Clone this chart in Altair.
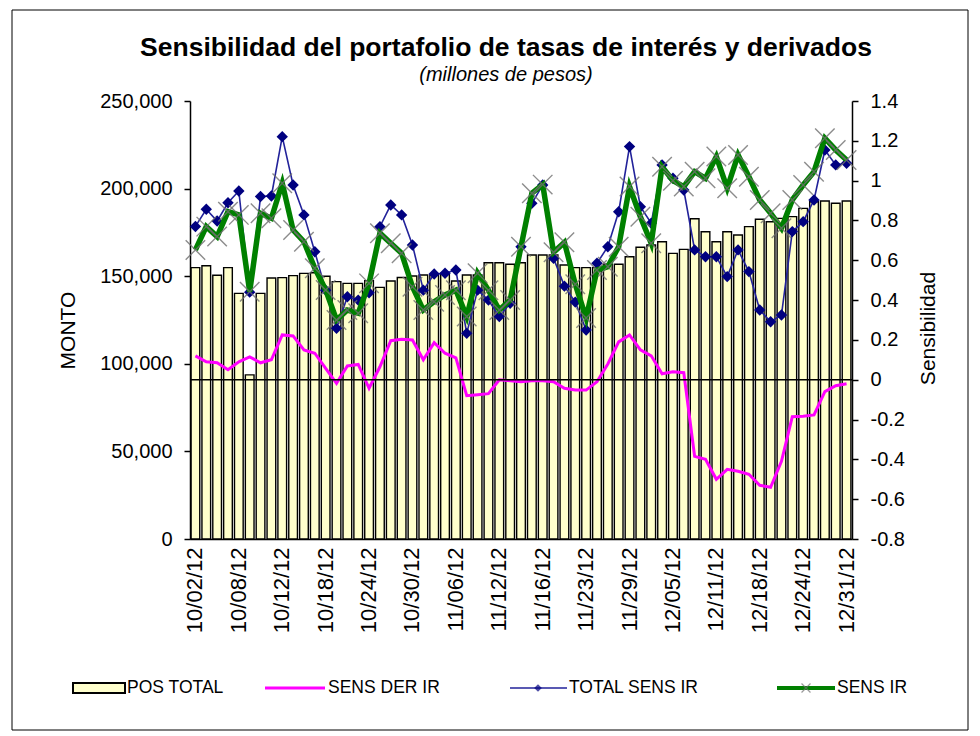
import altair as alt
import pandas as pd

# ---------------- data ----------------
fechas = [
    "10/02/12", "10/03/12", "10/04/12", "10/05/12", "10/08/12", "10/09/12", "10/10/12", "10/11/12",
    "10/12/12", "10/15/12", "10/16/12", "10/17/12", "10/18/12", "10/19/12", "10/22/12", "10/23/12",
    "10/24/12", "10/25/12", "10/26/12", "10/29/12", "10/30/12", "10/31/12", "11/01/12", "11/05/12",
    "11/06/12", "11/07/12", "11/08/12", "11/09/12", "11/12/12", "11/13/12", "11/14/12", "11/15/12",
    "11/16/12", "11/20/12", "11/21/12", "11/22/12", "11/23/12", "11/26/12", "11/27/12", "11/28/12",
    "11/29/12", "11/30/12", "12/03/12", "12/04/12", "12/05/12", "12/06/12", "12/07/12", "12/10/12",
    "12/11/12", "12/13/12", "12/14/12", "12/17/12", "12/18/12", "12/19/12", "12/20/12", "12/21/12",
    "12/24/12", "12/26/12", "12/27/12", "12/28/12", "12/31/12",
]

pos_total = [
    154900, 156000, 150500, 154900, 140200, 93700, 140200, 149000, 149200, 150300,
    151600, 152000, 150000, 146900, 145900, 145900, 147500, 143600, 147300, 149300,
    150100, 150700, 150700, 151600, 147300, 150700, 150700, 157700, 157700, 156800,
    157700, 162100, 162100, 162100, 156400, 154900, 154900, 154900, 156800, 156800,
    161100, 166500, 167800, 169700, 163000, 165300, 182800, 175400, 169700, 175400,
    173500, 178300, 182500, 181100, 183000, 184000, 188700, 192500, 192900, 191600,
    192900,
]

sens_der_ir = [
    0.12, 0.09, 0.085, 0.05, 0.09, 0.115, 0.085, 0.10, 0.225, 0.22,
    0.15, 0.133, 0.057, -0.018, 0.069, 0.077, -0.043, 0.065, 0.196, 0.203,
    0.20, 0.10, 0.186, 0.133, 0.11, -0.08, -0.075, -0.07, 0.0, -0.005,
    -0.01, -0.005, -0.005, -0.01, -0.043, -0.052, -0.052, -0.01, 0.079, 0.19,
    0.225, 0.15, 0.12, 0.03, 0.04, 0.035, -0.385, -0.40, -0.50, -0.45,
    -0.46, -0.475, -0.53, -0.54, -0.41, -0.186, -0.184, -0.177, -0.06, -0.03,
    -0.02,
]

total_sens_ir = [
    0.77, 0.856, 0.797, 0.889, 0.948, 0.44, 0.92, 0.923, 1.221, 0.978,
    0.828, 0.643, 0.45, 0.258, 0.417, 0.40, 0.437, 0.769, 0.878, 0.828,
    0.677, 0.45, 0.531, 0.535, 0.551, 0.233, 0.45, 0.40, 0.317, 0.384,
    0.668, 0.886, 0.978, 0.61, 0.47, 0.39, 0.25, 0.585, 0.668, 0.844,
    1.171, 0.869, 0.786, 1.079, 1.012, 0.953, 0.652, 0.618, 0.618, 0.518,
    0.652, 0.543, 0.35, 0.291, 0.325, 0.744, 0.794, 0.903, 1.154, 1.079,
    1.087,
]

sens_ir = [
    0.652, 0.769, 0.719, 0.844, 0.828, 0.442, 0.836, 0.811, 0.987, 0.752,
    0.693, 0.56, 0.451, 0.30, 0.35, 0.334, 0.484, 0.736, 0.685, 0.635,
    0.467, 0.35, 0.392, 0.426, 0.45, 0.317, 0.535, 0.45, 0.35, 0.40,
    0.668, 0.937, 0.98, 0.64, 0.69, 0.48, 0.31, 0.551, 0.568, 0.668,
    0.97, 0.819, 0.685, 1.07, 1.0, 0.97, 1.045, 1.012, 1.121, 0.962,
    1.129, 1.02, 0.903, 0.836, 0.761, 0.903, 0.978, 1.045, 1.213, 1.154,
    1.104,
]

x_labels = fechas[::4]
left_ticks = [0, 50000, 100000, 150000, 200000, 250000]
right_ticks = [-0.8, -0.6, -0.4, -0.2, 0, 0.2, 0.4, 0.6, 0.8, 1, 1.2, 1.4]
zero_line = [0]

titulo = "Sensibilidad del portafolio de tasas de interés y derivados"
subtitulo = "(millones de pesos)"
legend_names = ["POS TOTAL", "SENS DER IR", "TOTAL SENS IR", "SENS IR"]

df = pd.DataFrame({
    "fecha": fechas,
    "pos_total": pos_total,
    "sens_der_ir": sens_der_ir,
    "total_sens_ir": total_sens_ir,
    "sens_ir": sens_ir,
})

FONT = "Liberation Sans"
W, H = 662, 438
X_PATH = "M-1,-1L1,1M-1,1L1,-1"

base = alt.Chart(df)

x_enc = alt.X(
    "fecha:O",
    sort=fechas,
    scale=alt.Scale(paddingInner=0.2, paddingOuter=0.1),
    axis=alt.Axis(
        values=x_labels, labelAngle=270, labelAlign="right", labelBaseline="middle",
        labelFont=FONT, labelFontSize=22, labelColor="black", labelPadding=8,
        tickSize=0, domainColor="black", domainWidth=1.5, title=None,
    ),
)
x_plain = alt.X("fecha:O", sort=fechas)

bars = base.mark_bar(fill="#FFFFCC", stroke="black", strokeWidth=1.4).encode(
    x=x_enc,
    y=alt.Y(
        "pos_total:Q",
        scale=alt.Scale(domain=[0, 250000], nice=False, zero=True),
        axis=alt.Axis(
            orient="left", values=left_ticks, format=",.0f", grid=False,
            labelFont=FONT, labelFontSize=20, labelColor="black", labelPadding=12,
            tickSize=6, tickColor="black", tickWidth=1.5,
            domainColor="black", domainWidth=1.5,
            title="MONTO", titleFont=FONT, titleFontSize=21, titleFontWeight="normal",
            titleColor="black", titleAngle=270, titleX=-122, titleY=229,
            titleAlign="center", titleBaseline="middle",
        ),
    ),
)

right_scale = alt.Scale(domain=[-0.8, 1.4], nice=False, zero=False)
right_axis = alt.Axis(
    orient="right", values=right_ticks, grid=False,
    labelExpr="datum.value < 0 ? '-' + format(-datum.value, '~g') : format(datum.value, '~g')",
    labelFont=FONT, labelFontSize=20, labelColor="black", labelPadding=12,
    tickSize=6, tickColor="black", tickWidth=1.5,
    domainColor="black", domainWidth=1.5,
    title="Sensibilidad", titleFont=FONT, titleFontSize=21, titleFontWeight="normal",
    titleColor="black", titleAngle=270, titleX=76, titleY=227,
    titleAlign="center", titleBaseline="middle",
)


def y_right(field):
    return alt.Y(field, scale=right_scale, axis=right_axis)


magenta = base.mark_line(color="#FF00FF", strokeWidth=3).encode(
    x=x_plain, y=y_right("sens_der_ir:Q"))

zero_rule = alt.Chart(pd.DataFrame({"zero": zero_line})).mark_rule(
    color="black", strokeWidth=1.5).encode(
    y=y_right("zero:Q"), x=alt.value(0), x2=alt.value(W))

blue_line = base.mark_line(color="#22229A", strokeWidth=1.6).encode(
    x=x_plain, y=y_right("total_sens_ir:Q"))
blue_pts = base.mark_point(shape="diamond", filled=True, color="#000080", size=130, opacity=1).encode(
    x=x_plain, y=y_right("total_sens_ir:Q"))
green_line = base.mark_line(color="#008000", strokeWidth=5.5).encode(
    x=x_plain, y=y_right("sens_ir:Q"))
green_x = base.mark_point(shape=X_PATH, filled=False, stroke="#707070", strokeWidth=1.4,
                          size=380, opacity=0.8).encode(
    x=x_plain, y=y_right("sens_ir:Q"))

right = alt.layer(magenta, zero_rule, blue_line, blue_pts, green_line, green_x)

# ---------------- titles & legend (decoration) ----------------
one = alt.Chart(pd.DataFrame({"k": [0]}))

title_mark = one.mark_text(font=FONT, fontSize=26.5, fontWeight="bold", align="center",
                           baseline="alphabetic", color="black").encode(
    x=alt.value(316), y=alt.value(-45), text=alt.value(titulo))
subtitle_mark = one.mark_text(font=FONT, fontSize=20, fontStyle="italic", align="center",
                              baseline="alphabetic", color="black").encode(
    x=alt.value(316), y=alt.value(-20), text=alt.value(subtitulo))

LY = 587
leg_rect = one.mark_rect(fill="#FFFFCC", stroke="black", strokeWidth=2).encode(
    x=alt.value(-117), x2=alt.value(-65), y=alt.value(LY - 5), y2=alt.value(LY + 5))
leg_mag = one.mark_rule(color="#FF00FF", strokeWidth=3).encode(
    x=alt.value(75), x2=alt.value(135), y=alt.value(LY))
leg_blue = one.mark_rule(color="#22229A", strokeWidth=1.6).encode(
    x=alt.value(320), x2=alt.value(377), y=alt.value(LY))
leg_blue_pt = one.mark_point(shape="diamond", filled=True, color="#000080", size=60).encode(
    x=alt.value(348), y=alt.value(LY))
leg_green = one.mark_rule(color="#008000", strokeWidth=4).encode(
    x=alt.value(587), x2=alt.value(645), y=alt.value(LY))
leg_green_pt = one.mark_point(shape=X_PATH, filled=False, stroke="#707070", strokeWidth=1.2,
                              size=80).encode(x=alt.value(616), y=alt.value(LY))

leg_texts = []
for name, xpos in zip(legend_names, [-63, 138, 379, 647]):
    leg_texts.append(
        one.mark_text(font=FONT, fontSize=17.5, align="left", baseline="middle", color="black").encode(
            x=alt.value(xpos), y=alt.value(LY), text=alt.value(name))
    )

border = one.mark_rect(fill="transparent", stroke="black", strokeWidth=1).encode(
    x=alt.value(-178), x2=alt.value(778), y=alt.value(-91), y2=alt.value(629))

deco = alt.layer(title_mark, subtitle_mark, leg_rect, leg_mag, leg_blue, leg_blue_pt,
                 leg_green, leg_green_pt, *leg_texts, border)

chart = alt.layer(bars, right, deco).resolve_scale(y="independent").properties(
    width=W, height=H,
    autosize=alt.AutoSizeParams(type="none"),
    padding={"left": 190, "top": 101, "right": 128, "bottom": 197},
    background="white",
).configure_view(stroke="transparent")

chart.save("out.html", embed_options={"renderer": "svg", "actions": False})
